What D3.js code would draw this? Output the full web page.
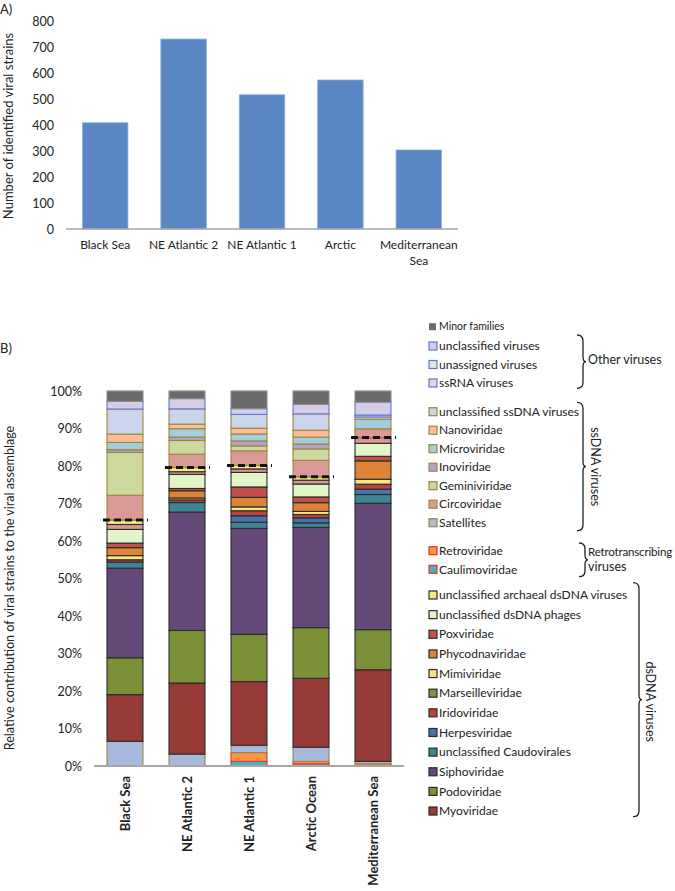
<!DOCTYPE html>
<html><head><meta charset="utf-8">
<script src="https://cdn.jsdelivr.net/npm/d3@7"></script>
<style>
body{margin:0;background:#fff;}
svg{display:block;font-family:Lato,"Open Sans",sans-serif;}
</style></head>
<body><svg id="c" width="675" height="891"></svg>
<script>
// ---------- Panel A data ----------
const sitesA = ["Black Sea", "NE Atlantic 2", "NE Atlantic 1", "Arctic", "Mediterranean Sea"];
const strainCounts = [410, 733, 518, 575, 305];
const ticksA = [0, 100, 200, 300, 400, 500, 600, 700, 800];

// ---------- Panel B data (% of strains, stack order bottom -> top) ----------
const sitesB = ["Black Sea", "NE Atlantic 2", "NE Atlantic 1", "Arctic Ocean", "Mediterranean Sea"];
const caulimoviridae   = [0,    0,    1.2,  0.6,  0];
const retroviridae     = [0,    0,    2.3,  0.6,  0.6];
const satellites       = [6.5,  3.1,  1.9,  3.7,  0.6];
const myoviridae       = [12.3, 18.7, 16.6, 18.1, 24.0];
const podoviridae      = [9.7,  13.8, 12.3, 13.3, 10.5];
const siphoviridae     = [23.6, 31.1, 27.6, 26.3, 33.1];
const uncCaudovirales  = [1.6,  2.5,  1.6,  1.2,  2.3];
const herpesviridae    = [0,    0,    1.7,  1.3,  1.4];
const iridoviridae     = [0.6,  0.7,  1.3,  0.9,  1.3];
const marseilleviridae = [0,    0,    0,    0,    0];
const mimiviridae      = [1.1,  0.5,  1.0,  0.8,  1.3];
const phycodnaviridae  = [2.1,  1.9,  2.5,  2.3,  4.8];
const poxviridae       = [1.2,  0.6,  2.7,  1.5,  1.2];
const uncDsDNAPhages   = [3.6,  3.7,  3.8,  3.4,  3.4];
const pinkDsDNABand    = [1.3,  0.7,  0.9,  1.0,  1.5];
const uncArchaealDsDNA = [1.2,  1.1,  0.9,  0.9,  0];
const circoviridae     = [6.5,  3.5,  3.8,  4.3,  2.3];
const geminiviridae    = [11.3, 3.6,  1.3,  3.0,  0];
const inoviridae       = [0.7,  0.9,  1.3,  1.3,  0];
const microviridae     = [1.9,  2.2,  1.8,  1.8,  2.5];
const nanoviridae      = [2.2,  1.2,  1.5,  1.8,  0];
const uncSsDNA         = [6.6,  4.0,  3.6,  4.3,  0.6];
const ssRNAViruses     = [0,    0,    0,    0,    0];
const unassignedViruses= [0,    0,    0,    0,    0.5];
const uncViruses       = [2.0,  2.7,  1.5,  2.5,  3.4];
const minorFamilies    = [2.75, 2.0,  4.6,  3.5,  2.9];
const ticksB = [0, 0.1, 0.2, 0.3, 0.4, 0.5, 0.6, 0.7, 0.8, 0.9, 1.0];

// series table (stack order), with styles
const C_DS = "#2a2a2a", C_SS = "#9a8640", C_OT = "#5f75d6", C_RT = "#e8352c";
const series = [
  {key:"Caulimoviridae", v:caulimoviridae, fill:"#4bacc6", stroke:C_RT},
  {key:"Retroviridae", v:retroviridae, fill:"#f79646", stroke:C_RT},
  {key:"Satellites", v:satellites, fill:"#a7b9dc", stroke:C_SS},
  {key:"Myoviridae", v:myoviridae, fill:"#953a36", stroke:C_DS},
  {key:"Podoviridae", v:podoviridae, fill:"#7b9037", stroke:C_DS},
  {key:"Siphoviridae", v:siphoviridae, fill:"#634878", stroke:C_DS},
  {key:"unclassified Caudovirales", v:uncCaudovirales, fill:"#3e8696", stroke:C_DS},
  {key:"Herpesviridae", v:herpesviridae, fill:"#4a72ab", stroke:C_DS},
  {key:"Iridoviridae", v:iridoviridae, fill:"#b9443f", stroke:C_DS},
  {key:"Marseilleviridae", v:marseilleviridae, fill:"#7f9640", stroke:C_DS},
  {key:"Mimiviridae", v:mimiviridae, fill:"#fde57e", stroke:C_DS},
  {key:"Phycodnaviridae", v:phycodnaviridae, fill:"#dd8436", stroke:C_DS},
  {key:"Poxviridae", v:poxviridae, fill:"#c4504c", stroke:C_DS},
  {key:"unclassified dsDNA phages", v:uncDsDNAPhages, fill:"#e0f6c8", stroke:C_DS},
  {key:"pink dsDNA band", v:pinkDsDNABand, fill:"#dd9494", stroke:C_DS},
  {key:"unclassified archaeal dsDNA viruses", v:uncArchaealDsDNA, fill:"#f4ec7a", stroke:C_DS},
  {key:"Circoviridae", v:circoviridae, fill:"#da9a98", stroke:C_SS},
  {key:"Geminiviridae", v:geminiviridae, fill:"#ccd89d", stroke:C_SS},
  {key:"Inoviridae", v:inoviridae, fill:"#b3a3c8", stroke:C_SS},
  {key:"Microviridae", v:microviridae, fill:"#a4cedc", stroke:C_SS},
  {key:"Nanoviridae", v:nanoviridae, fill:"#fbbe97", stroke:C_SS},
  {key:"unclassified ssDNA viruses", v:uncSsDNA, fill:"#ccd4ec", stroke:C_SS},
  {key:"ssRNA viruses", v:ssRNAViruses, fill:"#e6d3e3", stroke:C_OT},
  {key:"unassigned viruses", v:unassignedViruses, fill:"#dfebd5", stroke:C_OT},
  {key:"unclassified viruses", v:uncViruses, fill:"#d5cde6", stroke:C_OT},
  {key:"Minor families", v:minorFamilies, fill:"#6a6a6a", stroke:"#8a8a8a"}
];

// legend (top -> bottom)
const legendGroups = [
  {y0:326.7, step:0, items:["Minor families"]},
  {y0:346, step:18.5, items:["unclassified viruses","unassigned viruses","ssRNA viruses"]},
  {y0:411.7, step:18.5, items:["unclassified ssDNA viruses","Nanoviridae","Microviridae","Inoviridae","Geminiviridae","Circoviridae","Satellites"]},
  {y0:550.7, step:18.6, items:["Retroviridae","Caulimoviridae"]},
  {y0:595, step:19.64, items:["unclassified archaeal dsDNA viruses","unclassified dsDNA phages","Poxviridae","Phycodnaviridae","Mimiviridae","Marseilleviridae","Iridoviridae","Herpesviridae","unclassified Caudovirales","Siphoviridae","Podoviridae","Myoviridae"]}
];

const svg = d3.select("#c");
const txt = "#222";

// ================= Panel A =================
svg.append("text").attr("x",0).attr("y",14).attr("font-size",13).attr("fill",txt).text("A)");
const xA = d3.scaleBand().domain(sitesA).range([66,458]).paddingInner(0.42).paddingOuter(0.21);
const yA = d3.scaleLinear().domain([0,800]).range([229,21.7]);
const gA = svg.append("g");
gA.selectAll("rect.bar").data(sitesA).join("rect")
  .attr("x", d=>xA(d)).attr("width", xA.bandwidth())
  .attr("y", (d,i)=>yA(strainCounts[i])).attr("height",(d,i)=>yA(0)-yA(strainCounts[i]))
  .attr("fill","#5b87c5").attr("stroke","#8eaedb").attr("stroke-width",0.8);
const axA = d3.axisLeft(yA).tickValues(ticksA).tickSize(0).tickPadding(0);
const gyA = gA.append("g").attr("transform","translate(54,0)").call(axA);
gyA.select(".domain").remove();
gyA.selectAll("text").attr("font-size",12.5).attr("fill",txt).attr("font-family","Lato,sans-serif");
gA.append("line").attr("x1",66).attr("x2",458).attr("y1",yA(0)).attr("y2",yA(0)).attr("stroke","#a6a6a6").attr("stroke-width",1.5);
sitesA.forEach(s=>{
  const parts = s==="Mediterranean Sea" ? ["Mediterranean","Sea"] : [s];
  parts.forEach((p,k)=>{
    gA.append("text").attr("x", xA(s)+xA.bandwidth()/2).attr("y", 249+k*15.5)
      .attr("text-anchor","middle").attr("font-size",12).attr("fill",txt).text(p);
  });
});
svg.append("text").attr("transform","translate(13,126) rotate(-90)").attr("text-anchor","middle")
  .attr("font-size",13).attr("fill",txt).text("Number of identified viral strains");

// ================= Panel B =================
svg.append("text").attr("x",0).attr("y",353).attr("font-size",13).attr("fill",txt).text("B)");
const xB = d3.scaleBand().domain(sitesB).range([94,404]).paddingInner(0.42).paddingOuter(0.21);
const yB = d3.scaleLinear().domain([0,1]).range([766,391]);
const rows = sitesB.map((s,i)=>{ const o={site:s}; series.forEach(se=>o[se.key]=se.v[i]); return o; });
const stack = d3.stack().keys(series.map(s=>s.key)).offset(d3.stackOffsetExpand);
const stacked = stack(rows);
const gB = svg.append("g");
stacked.forEach((layer,li)=>{
  const se = series[li];
  gB.append("g").selectAll("rect").data(layer.filter(d=>d[1]-d[0]>0)).join("rect")
    .attr("x", d=>xB(d.data.site)).attr("width", xB.bandwidth())
    .attr("y", d=>yB(d[1])).attr("height", d=>yB(d[0])-yB(d[1]))
    .attr("fill", se.fill).attr("stroke", se.stroke).attr("stroke-width",1.1);
});
// dashed lines at top of dsDNA group
const archLayer = stacked[series.findIndex(s=>s.key==="unclassified archaeal dsDNA viruses")];
gB.selectAll("line.dash").data(archLayer).join("line")
  .attr("x1", d=>xB(d.data.site)-4).attr("x2", d=>xB(d.data.site)+xB.bandwidth()+5)
  .attr("y1", d=>yB(d[1])).attr("y2", d=>yB(d[1]))
  .attr("stroke","#111").attr("stroke-width",3).attr("stroke-dasharray","7,4");
const axB = d3.axisLeft(yB).tickValues(ticksB).tickFormat(d3.format(".0%")).tickSize(0).tickPadding(0);
const gyB = gB.append("g").attr("transform","translate(82,0)").call(axB);
gyB.select(".domain").remove();
gyB.selectAll("text").attr("font-size",12.5).attr("fill",txt).attr("font-family","Lato,sans-serif");
gB.append("line").attr("x1",94).attr("x2",404).attr("y1",yB(0)).attr("y2",yB(0)).attr("stroke","#a6a6a6").attr("stroke-width",2);
sitesB.forEach(s=>{
  gB.append("text").attr("transform",`translate(${xB(s)+xB.bandwidth()/2+5},776) rotate(-90)`)
    .attr("text-anchor","end").attr("font-size",13).attr("font-weight","bold").attr("fill",txt).text(s);
});
svg.append("text").attr("transform","translate(14,588) rotate(-90)").attr("text-anchor","middle")
  .attr("font-size",12.6).attr("fill",txt).text("Relative contribution of viral strains to the viral assemblage");

// legend
const byKey = {}; series.forEach(s=>byKey[s.key]=s);
const gL = svg.append("g");
legendGroups.forEach(g=>{
  g.items.forEach((name,k)=>{
    const y = g.y0 + k*g.step, se = byKey[name];
    const minor = name==="Minor families";
    const sz = minor ? 7 : 8;
    gL.append("rect").attr("x", 429).attr("y", y-sz/2).attr("width",sz).attr("height",sz)
      .attr("fill", se.fill).attr("stroke", minor? "none" : se.stroke).attr("stroke-width",1.2);
    gL.append("text").attr("x", 439).attr("y", y).attr("dy","0.35em")
      .attr("font-size", minor?10.5:12).attr("fill",txt).text(name);
  });
});
function brace(x0,y0,y1){
  const xv=x0+6, ym=(y0+y1)/2;
  return `M${x0},${y0} Q${xv},${y0} ${xv},${y0+6} L${xv},${ym-5} Q${xv},${ym} ${xv+3},${ym} Q${xv},${ym} ${xv},${ym+5} L${xv},${y1-6} Q${xv},${y1} ${x0},${y1}`;
}
[[577,335,388.3],[577,402.3,530.7],[579,543,576.7],[633,582.7,816.7]].forEach(b=>{
  gL.append("path").attr("d",brace(b[0],b[1],b[2])).attr("fill","none").attr("stroke","#222").attr("stroke-width",1.3);
});
gL.append("text").attr("x",588).attr("y",360).attr("dy","0.35em").attr("font-size",12.5).attr("fill",txt).text("Other viruses");
gL.append("text").attr("transform","translate(595,466.7) rotate(90)").attr("text-anchor","middle").attr("dy","0.35em").attr("font-size",12.5).attr("fill",txt).text("ssDNA viruses");
gL.append("text").attr("x",588).attr("y",551.7).attr("dy","0.35em").attr("font-size",11.6).attr("letter-spacing","-0.2").attr("fill",txt).text("Retrotranscribing");
gL.append("text").attr("x",588).attr("y",567).attr("dy","0.35em").attr("font-size",12.5).attr("fill",txt).text("viruses");
gL.append("text").attr("transform","translate(650,701.7) rotate(90)").attr("text-anchor","middle").attr("dy","0.35em").attr("font-size",12.5).attr("fill",txt).text("dsDNA viruses");
</script></body></html>
